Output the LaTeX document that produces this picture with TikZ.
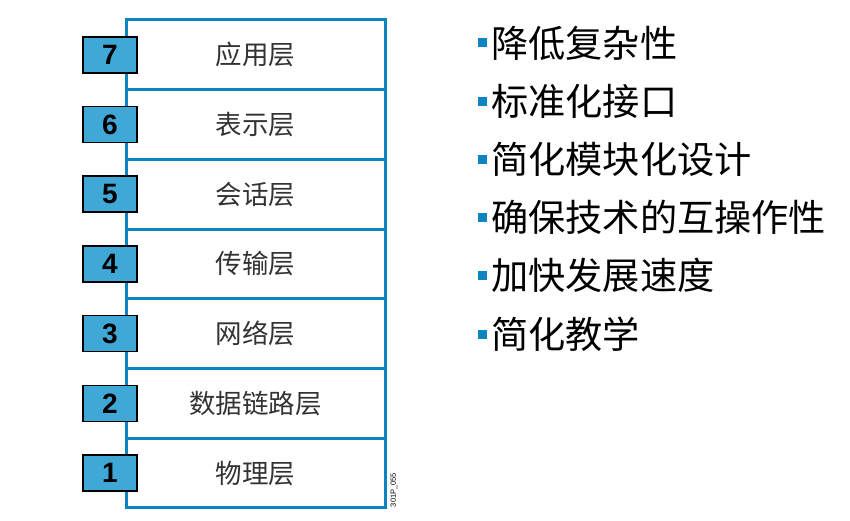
\documentclass[tikz,border=0pt]{standalone}
\usepackage{fontspec}
\setmainfont{Liberation Sans}
\newfontfamily\cjk{Noto Sans CJK SC}
\newfontfamily\numfont{Liberation Sans}
\definecolor{stackblue}{HTML}{0B84C0}
\definecolor{numblue}{HTML}{40A8D6}
\definecolor{bulletblue}{HTML}{0B84C0}
\definecolor{labelgray}{HTML}{333333}
\begin{document}
\begin{tikzpicture}[x=1pt,y=1pt,
  layerbox/.style={draw=stackblue,line width=3pt,fill=white,minimum width=259pt,minimum height=69.7pt,inner sep=0pt,font=\cjk\fontsize{26.5}{26.5}\selectfont,text=labelgray},
  numbox/.style={draw=black,line width=1.6pt,fill=numblue,minimum width=54pt,minimum height=36pt,inner sep=0pt,font=\numfont\bfseries\fontsize{28}{28}\selectfont},
  bullet/.style={fill=bulletblue,minimum size=9pt,inner sep=0pt},
  item/.style={anchor=west,inner sep=0pt,font=\cjk\fontsize{37.2}{37.2}\selectfont}]
\useasboundingbox (0,0) rectangle (850,520);
\foreach \n/\t [count=\i from 0] in {7/应用层,6/表示层,5/会话层,4/传输层,3/网络层,2/数据链路层,1/物理层}{
  \node[layerbox] (L\n) at (255.5,{520-20-34.85-69.7*\i}) {\t};
}
\foreach \n [count=\i from 0] in {7,6,5,4,3,2,1}{
  \node[numbox] (N\n) at (110,{520-20-34.85-69.7*\i}) {\n};
}
\foreach \t [count=\i from 0] in {降低复杂性,标准化接口,简化模块化设计,确保技术的互操作性,加快发展速度,简化教学}{
  \node[bullet] (B\i) at (482,{520-43-58.2*\i}) {};
  \node[item] (T\i) at (491,{520-43-58.2*\i}) {\t};
}
\node[rotate=90,font=\fontsize{7.5}{7.5}\selectfont,inner sep=0pt] (code) at (394,30) {301P\_055};
\end{tikzpicture}
\end{document}
